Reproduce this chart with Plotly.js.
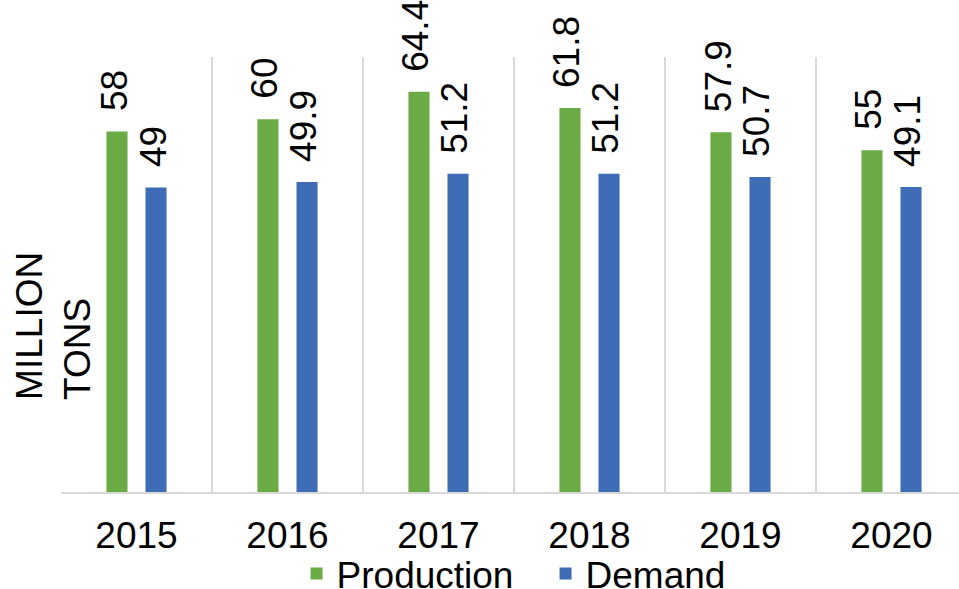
<!DOCTYPE html>
<html>
<head>
<meta charset="utf-8">
<script src="https://cdn.plot.ly/plotly-3.0.1.min.js"></script>
<style>
html, body { margin:0; padding:0; overflow:hidden; background:#fff; }
#chart { width:968px; height:589px; }
</style>
</head>
<body>
<div id="chart"></div>
<script>
const years = ['2015', '2016', '2017', '2018', '2019', '2020'];
const production = [58, 60, 64.4, 61.8, 57.9, 55];
const demand = [49, 49.9, 51.2, 51.2, 50.7, 49.1];
const seriesNames = ['Production', 'Demand'];
const yTitleLines = ['MILLION', 'TONS'];

const FONT = 'Liberation Sans, Arial, sans-serif';
const FS = 37;
const green = '#6aab45';
const blue = '#3f6db5';

const mkBar = (name, vals, color) => ({
  type: 'bar', name: name, x: years, y: vals,
  marker: { color: color },
  hoverinfo: 'skip'
});

const data = [
  mkBar(seriesNames[0], production, green),
  mkBar(seriesNames[1], demand, blue)
];

// data labels: x is the category index on the category axis
const labelAnn = (vals, shift) => years.map((yr, i) => ({
  xref: 'x', yref: 'y', x: i, y: vals[i],
  xanchor: 'center', yanchor: 'bottom',
  xshift: shift, yshift: 18,
  text: String(vals[i]), textangle: -90, showarrow: false,
  font: { family: FONT, size: FS, color: '#000' }
}));

const layout = {
  width: 968, height: 589,
  margin: { l: 61, r: 1, t: 57, b: 97, autoexpand: false },
  paper_bgcolor: '#fff', plot_bgcolor: '#fff',
  font: { family: FONT, size: FS, color: '#000' },
  barmode: 'group',
  bargap: 0.483,
  bargroupgap: 0.46,
  showlegend: true,
  legend: {
    orientation: 'h', x: 0.26, xanchor: 'left', y: -0.117, yanchor: 'top',
    bgcolor: 'rgba(0,0,0,0)',
    entrywidth: 204, entrywidthmode: 'pixels',
    font: { family: FONT, size: FS, color: '#000' },
    itemclick: false, itemdoubleclick: false
  },
  xaxis: {
    type: 'category',
    range: [-0.5, years.length - 0.5],
    showgrid: true, gridcolor: '#d9d9d9', gridwidth: 2,
    tickson: 'boundaries',
    ticks: '', showline: true, linecolor: '#d9d9d9', linewidth: 2,
    tickfont: { family: FONT, size: FS, color: '#000' },
    ticklabelstandoff: 10,
    automargin: false,
    fixedrange: true
  },
  yaxis: {
    range: [0, 70],
    showgrid: false, zeroline: false, showticklabels: false, ticks: '',
    showline: false, fixedrange: true, automargin: false
  },
  annotations: [{
    xref: 'paper', yref: 'paper',
    x: -0.0083, y: 0.383, xanchor: 'center', yanchor: 'middle',
    text: yTitleLines.join('<br>'),
    textangle: -90, align: 'left', showarrow: false,
    font: { family: FONT, size: FS, color: '#000' }
  }].concat(labelAnn(production, -22.5), labelAnn(demand, 16.5))
};

Plotly.newPlot('chart', data, layout, { staticPlot: true, displayModeBar: false });
</script>
</body>
</html>
